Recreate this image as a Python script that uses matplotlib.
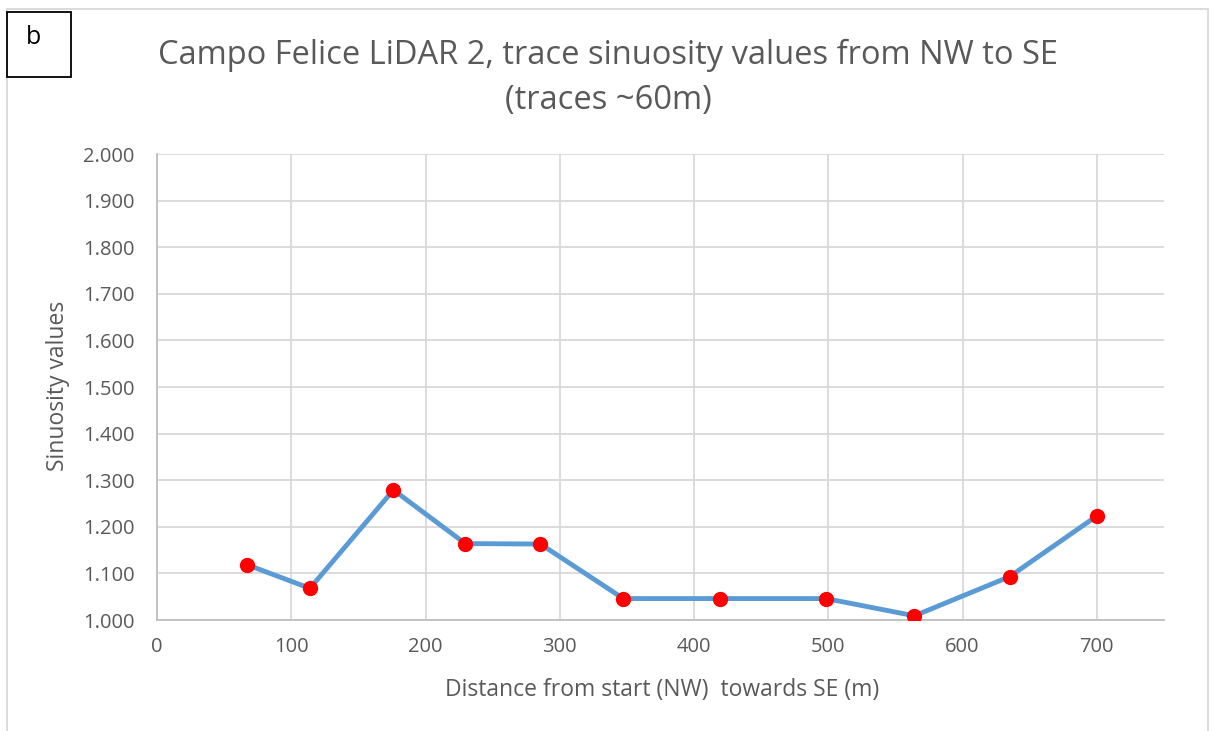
import matplotlib
matplotlib.use("Agg")
import matplotlib.pyplot as plt
from matplotlib.patches import Rectangle

# trace midpoints along the fault (m) and sinuosity of each trace
distance = [66.7, 113.9, 176.1, 229.6, 285.6, 347.3, 419.4, 498.3, 564.1, 635.0, 700.3]
sinuosity = [1.119, 1.068, 1.279, 1.164, 1.163, 1.046, 1.046, 1.046, 1.009, 1.093, 1.224]

x_ticks = [0, 100, 200, 300, 400, 500, 600, 700]
y_ticks = [1.0, 1.1, 1.2, 1.3, 1.4, 1.5, 1.6, 1.7, 1.8, 1.9, 2.0]

plt.rcParams['font.family'] = ['Open Sans', 'DejaVu Sans']
text_col = "#595959"
grid_col = "#d9d9d9"

fig = plt.figure(figsize=(12.16, 7.31), dpi=100)
ax = fig.add_axes([157 / 1216, 1 - 620 / 731, (1164 - 157) / 1216, (620 - 154) / 731])

ax.plot(distance, sinuosity, color="#5b9bd5", lw=3.5, zorder=3)
ax.plot(distance, sinuosity, "o", color="red", ms=10, zorder=4)

ax.set_xlim(0, 750)
ax.set_ylim(1.0, 2.0)
ax.set_xticks(x_ticks)
ax.set_yticks(y_ticks)
ax.set_yticklabels([f"{v:.3f}" for v in y_ticks])
ax.grid(True, color=grid_col, lw=1.3)
ax.set_axisbelow(True)
ax.tick_params(length=0, labelsize=14.5, colors=text_col)
ax.tick_params(axis="y", pad=16)
ax.tick_params(axis="x", pad=12)
for side in ["top", "right"]:
    ax.spines[side].set_visible(False)
for side in ["left", "bottom"]:
    ax.spines[side].set_color("#bfbfbf")
    ax.spines[side].set_linewidth(1.3)

ax.set_xlabel("Distance from start (NW)  towards SE (m)", fontsize=16.5, color=text_col, va="center")
ax.set_ylabel("Sinuosity values", fontsize=16.5, color=text_col, va="center")
ax.xaxis.set_label_coords(0.5013, (620 - 690) / 466)
ax.yaxis.set_label_coords((58 - 157) / 1007, (620 - 386) / 466)

fig.text(608 / 1216, 1 - 55 / 731, "Campo Felice LiDAR 2, trace sinuosity values from NW to SE",
         ha="center", va="center", fontsize=23.5, color=text_col)
fig.text(608 / 1216, 1 - 100 / 731, "(traces ~60m)", ha="center", va="center", fontsize=23.5, color=text_col)

# chart frame and panel label
fig.patches.append(Rectangle((7 / 1216, -0.05), (1208 - 7) / 1216, 1.05 - 9 / 731,
                             transform=fig.transFigure, fill=False, ec=grid_col, lw=1.3))
fig.patches.append(Rectangle((7 / 1216, 1 - 77 / 731), 64 / 1216, 65 / 731,
                             transform=fig.transFigure, fc="white", ec="black", lw=1.3))
fig.text(33 / 1216, 1 - 38 / 731, "b", ha="center", va="center", fontsize=18, color="black")

fig.savefig("out.png", dpi=100)
